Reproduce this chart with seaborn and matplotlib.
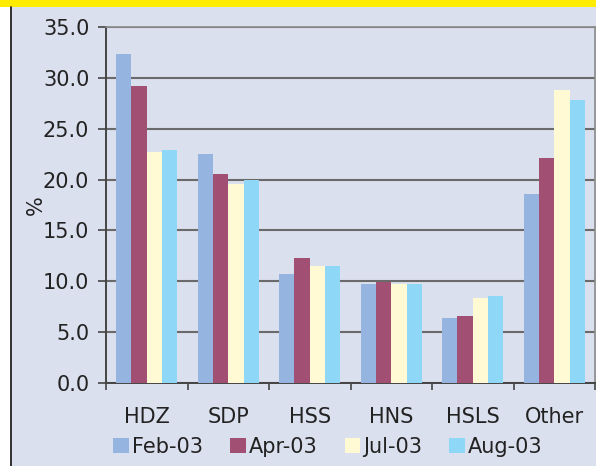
import pandas as pd
import matplotlib
matplotlib.use("Agg")
import matplotlib.pyplot as plt
import seaborn as sns
from matplotlib.patches import Rectangle
from matplotlib.lines import Line2D

# Data
parties = ["HDZ", "SDP", "HSS", "HNS", "HSLS", "Other"]
periods = ["Feb-03", "Apr-03", "Jul-03", "Aug-03"]
feb03 = [32.3, 22.5, 10.7, 9.7, 6.4, 18.6]
apr03 = [29.2, 20.5, 12.3, 9.9, 6.6, 22.1]
jul03 = [22.7, 19.6, 11.5, 9.7, 8.4, 28.8]
aug03 = [22.9, 20.0, 11.5, 9.7, 8.6, 27.8]
yticks = [0, 5, 10, 15, 20, 25, 30, 35]

colors = ["#95b4df", "#a15073", "#fffad4", "#8fd7f6"]
bg = "#dbe0ee"

df = pd.DataFrame({
    "party": parties * 4,
    "period": [p for p in periods for _ in parties],
    "value": feb03 + apr03 + jul03 + aug03,
})

sns.set_theme(style="white")
plt.rcParams["font.family"] = ["DejaVu Sans"]

W, H = 596, 466
fig = plt.figure(figsize=(W / 100, H / 100), dpi=100)
fig.patch.set_facecolor("white")

# page background, yellow band and left rule
fig.add_artist(Rectangle((11 / W, 0), 1, 1 - 7 / H, transform=fig.transFigure,
                         facecolor=bg, edgecolor="none", zorder=0))
fig.add_artist(Rectangle((0, 1 - 7 / H), 1, 7 / H, transform=fig.transFigure,
                         facecolor="#ffec00", edgecolor="none", zorder=0))
fig.add_artist(Line2D([10.5 / W, 10.5 / W], [0, 1 - 7 / H], transform=fig.transFigure,
                      color="#222222", lw=1.3))

ax = fig.add_axes([106 / W, 1 - 383 / H, (595 - 106) / W, (383 - 27) / H])
ax.set_facecolor(bg)

sns.barplot(data=df, x="party", y="value", hue="period", hue_order=periods,
            palette=colors, width=0.75, saturation=1, ax=ax, zorder=3,
            edgecolor="none", linewidth=0)

ax.set_ylim(0, 35)
ax.set_xlim(-0.5, 5.5)
ax.set_yticks(yticks)
ax.set_yticklabels([f"{v:.1f}" for v in yticks], fontsize=15, color="#222222")
ax.set_xticks(range(len(parties)))
ax.set_xticklabels(parties, fontsize=15, color="#222222")
ax.set_xticks([i - 0.5 for i in range(len(parties) + 1)], minor=True)
ax.tick_params(axis="x", which="major", bottom=True, length=0, pad=17)
ax.tick_params(axis="x", which="minor", bottom=True, length=5, width=1.2,
               color="#444444", direction="out")
ax.tick_params(axis="y", left=True, length=6, width=1.2, color="#444444",
               direction="out", pad=6)
ax.yaxis.grid(True, color="#6a6a6a", lw=1.5, zorder=1)
ax.set_axisbelow(True)
ax.set_xlabel("")
ax.set_ylabel("%", fontsize=15, color="#222222", labelpad=-2)

for s in ["left", "bottom"]:
    ax.spines[s].set_color("#444444")
    ax.spines[s].set_linewidth(1.4)
for s in ["top", "right"]:
    ax.spines[s].set_color("#8a8a8a")
    ax.spines[s].set_linewidth(1.2)

ax.get_legend().remove()
handles = [Rectangle((0, 0), 1, 1, facecolor=c, edgecolor="none") for c in colors]
fig.legend(handles, periods, loc="center", bbox_to_anchor=(328 / W, 1 - 447 / H),
           ncol=4, frameon=False, fontsize=15, handlelength=0.75, handleheight=0.75,
           handletextpad=0.15, columnspacing=1.3, labelcolor="#222222")

fig.savefig("out.png", dpi=100, facecolor=fig.get_facecolor())
